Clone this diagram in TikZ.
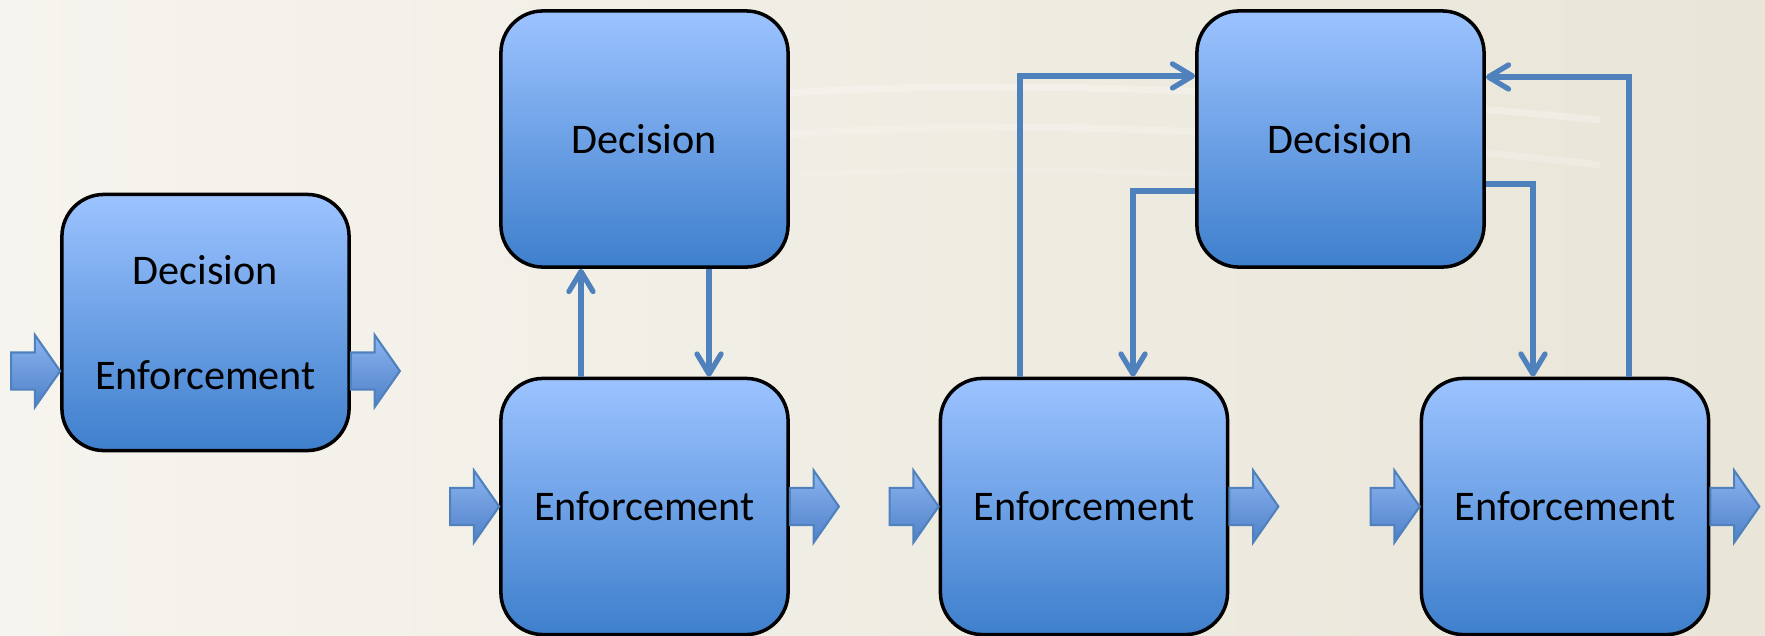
\documentclass[tikz,border=0pt]{standalone}
\usepackage{fontspec}
\setmainfont{Carlito}
\usetikzlibrary{arrows.meta,shapes.arrows}

\definecolor{bgleft}{RGB}{246,244,238}
\definecolor{bgright}{RGB}{233,229,216}
\definecolor{boxtop}{RGB}{156,195,255}
\definecolor{boxbot}{RGB}{62,127,204}
\definecolor{arrtop}{RGB}{140,180,240}
\definecolor{arrbot}{RGB}{78,128,200}
\definecolor{connblue}{RGB}{79,129,189}

\begin{document}
\begin{tikzpicture}[x=0.01cm,y=-0.01cm]
\useasboundingbox (0,0) rectangle (1765,636);
\fill[left color=bgleft,right color=bgright] (0,0) rectangle (1765,636);
\draw[white,opacity=0.25,line width=2pt] (760,95) .. controls (950,80) and (1250,85) .. (1600,120);
\draw[white,opacity=0.2,line width=2pt] (780,135) .. controls (980,120) and (1250,125) .. (1600,165);
\draw[white,opacity=0.15,line width=1.5pt] (800,175) .. controls (1000,165) and (1150,168) .. (1400,190);
\tikzstyle{box}=[draw=black,line width=1pt,rounded corners=0.42cm,minimum width=2.87cm,minimum height=2.56cm,top color=boxtop,bottom color=boxbot,font=\fontsize{12}{14}\selectfont,align=center]
\tikzstyle{blockarr}=[single arrow,draw=connblue,line width=0.6pt,top color=arrtop,bottom color=arrbot,minimum height=0.49cm,inner xsep=0pt,inner ysep=0.175cm,outer sep=0pt,single arrow head extend=0.175cm,single arrow tip angle=110]
\tikzstyle{conn}=[draw=connblue,line width=1.5pt,-{Straight Barb[length=0.2cm,width=0.24cm,round]}]
\node[box] (b1) at (205.5,322.5) {Decision\\[0.55cm]Enforcement};
\node[box] (d2) at (644.5,139) {Decision};
\node[box] (e2) at (644.5,506.5) {Enforcement};
\node[box] (e3) at (1084,506.5) {Enforcement};
\node[box] (d34) at (1340.5,139) {Decision};
\node[box] (e4) at (1565,506.5) {Enforcement};
\node[blockarr,anchor=tip] (in1) at ([yshift=-0.485cm]b1.west) {};
\node[blockarr,anchor=tail] (out1) at ([yshift=-0.485cm]b1.east) {};
\node[blockarr,anchor=tip] (in2) at (e2.west) {};
\node[blockarr,anchor=tail] (out2) at (e2.east) {};
\node[blockarr,anchor=tip] (in3) at (e3.west) {};
\node[blockarr,anchor=tail] (out3) at (e3.east) {};
\node[blockarr,anchor=tip] (in4) at (e4.west) {};
\node[blockarr,anchor=tail] (out4) at (e4.east) {};
\draw[conn] ([xshift=-0.635cm]e2.north) -- ([xshift=-0.635cm]d2.south);
\draw[conn] ([xshift=0.645cm]d2.south) -- ([xshift=0.645cm]e2.north);
\draw[conn] ([xshift=-0.64cm]e3.north) |- ([yshift=0.63cm]d34.west);
\draw[conn] ([yshift=-0.52cm]d34.west) -| ([xshift=0.49cm]e3.north);
\draw[conn] ([yshift=-0.45cm]d34.east) -| ([xshift=-0.32cm]e4.north);
\draw[conn] ([xshift=0.64cm]e4.north) |- ([yshift=0.62cm]d34.east);
\end{tikzpicture}
\end{document}
